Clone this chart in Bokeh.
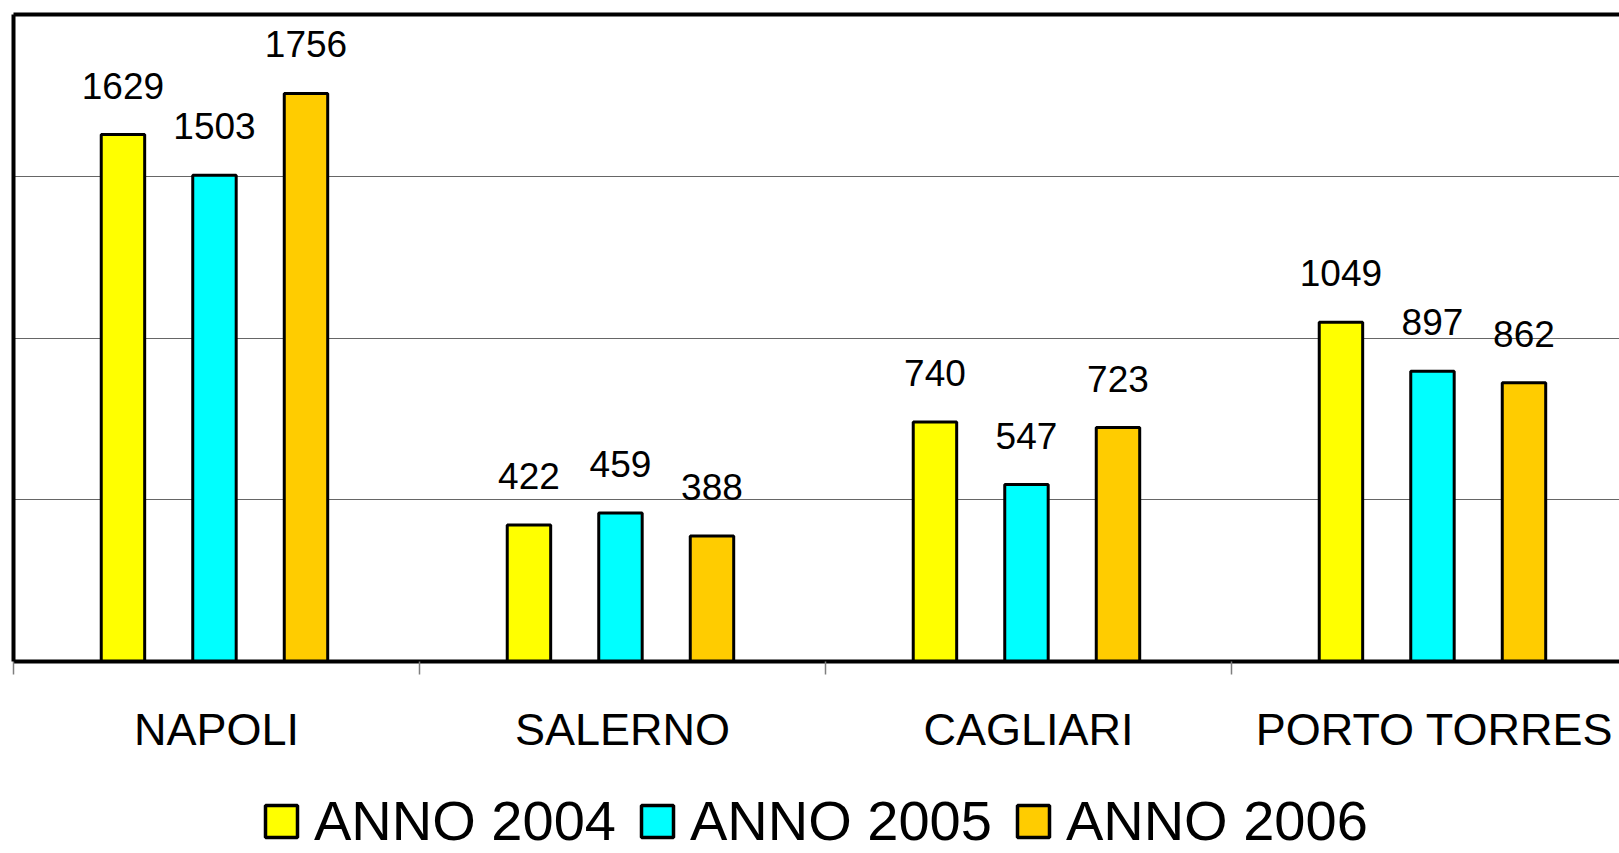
from bokeh.plotting import figure
from bokeh.layouts import column
from bokeh.models import (ColumnDataSource, Range1d, FixedTicker, LinearAxis,
                          LabelSet, Legend, LegendItem)
from bokeh.core.properties import value
from bokeh.embed import file_html
from bokeh.resources import INLINE

# ---- data ----
cities = ["NAPOLI", "SALERNO", "CAGLIARI", "PORTO TORRES"]
anno_2004 = [1629, 422, 740, 1049]
anno_2005 = [1503, 459, 547, 897]
anno_2006 = [1756, 388, 723, 862]
series_names = ["ANNO 2004", "ANNO 2005", "ANNO 2006"]
series_values = [anno_2004, anno_2005, anno_2006]
colors = ["#FFFF00", "#00FFFF", "#FFCC00"]
y_max = 2000
grid_ticks = [500, 1000, 1500]

FONT = "Liberation Sans"
W = 1619
H_CHART, H_LEGEND = 760, 93
LEFT, TOP, BOTTOM = 13, 14, 99
FRAME_W = W - LEFT
PX_PER_CAT = 406

p = figure(width=W, height=H_CHART, output_backend="svg", toolbar_location=None,
           x_range=Range1d(-0.5, -0.5 + FRAME_W / PX_PER_CAT),
           y_range=Range1d(0, y_max),
           min_border_left=LEFT, min_border_right=0, min_border_top=TOP,
           min_border_bottom=BOTTOM)
p.outline_line_color = None
p.background_fill_color = "white"
p.border_fill_color = "white"

# y axis: only the thick line
ya = p.left[0]
ya.ticker = FixedTicker(ticks=[])
ya.axis_line_width = 4
ya.axis_line_color = "black"
ya.major_tick_out = 0
ya.major_tick_in = 0
ya.minor_tick_out = 0
ya.minor_tick_in = 0
ya.major_label_standoff = 0
p.ygrid.ticker = FixedTicker(ticks=grid_ticks)
p.ygrid.grid_line_color = "#666666"
p.ygrid.grid_line_width = 1
p.xgrid.grid_line_color = None

# x axis: labels at category centres, ticks at boundaries
n = len(cities)
centers = list(range(n))
bounds = [i - 0.5 for i in range(n + 1)]
xa = p.below[0]
xa.ticker = FixedTicker(ticks=centers, minor_ticks=bounds)
xa.major_label_overrides = {i: c for i, c in enumerate(cities)}
xa.axis_line_width = 4
xa.axis_line_color = "black"
xa.major_tick_line_color = None
xa.major_tick_out = 13
xa.major_tick_in = 0
xa.minor_tick_line_color = "#7f7f7f"
xa.minor_tick_line_width = 1.5
xa.minor_tick_out = 13
xa.minor_tick_in = 0
xa.major_label_standoff = 29
xa.major_label_text_font = FONT
xa.major_label_text_font_size = "45px"
xa.major_label_text_color = "black"

# top border as an empty axis
top_axis = LinearAxis(ticker=FixedTicker(ticks=[]), axis_line_width=4,
                      axis_line_color="black", major_tick_out=0, major_tick_in=0,
                      minor_tick_out=0, minor_tick_in=0, major_label_standoff=0)
p.add_layout(top_axis, "above")

# bars
offsets = [-0.2304, -0.005, 0.2204]
bar_w = 0.107
sources = []
for name, vals, col, off in zip(series_names, series_values, colors, offsets):
    src = ColumnDataSource(dict(x=[i + off for i in range(n)], top=vals,
                                lab=[str(v) for v in vals]))
    sources.append(src)
    p.vbar(x="x", top="top", width=bar_w, source=src, fill_color=col,
           line_color="black", line_width=3)
    labels = LabelSet(x="x", y="top", text="lab", source=src, y_offset=36,
                      text_align="center", text_baseline="alphabetic",
                      text_font=value(FONT), text_font_size="37px",
                      text_color="black")
    p.add_layout(labels)

# legend strip (hidden proxy renderers carry the legend swatches)
p2 = figure(width=W, height=H_LEGEND, output_backend="svg", toolbar_location=None,
            x_axis_type=None, y_axis_type=None, min_border=0,
            x_range=Range1d(0, 1), y_range=Range1d(0, 1))
p2.outline_line_color = None
p2.xgrid.grid_line_color = None
p2.ygrid.grid_line_color = None
items = []
for name, col, src in zip(series_names, colors, sources):
    r = p2.vbar(x="x", top="top", width=bar_w, source=src, fill_color=col,
                line_color="black", line_width=3.5, visible=False)
    items.append(LegendItem(label=name, renderers=[r]))
legend = Legend(items=items, location=(248, 0), orientation="horizontal",
                label_text_font=FONT, label_text_font_size="56px",
                label_text_color="black", glyph_width=40, glyph_height=40,
                label_standoff=13, spacing=21, padding=0, margin=0,
                border_line_color=None, background_fill_alpha=0,
                inactive_fill_alpha=0)
p2.add_layout(legend)

layout = column(p, p2, spacing=0)
open("out.html", "w").write(file_html(layout, INLINE))
